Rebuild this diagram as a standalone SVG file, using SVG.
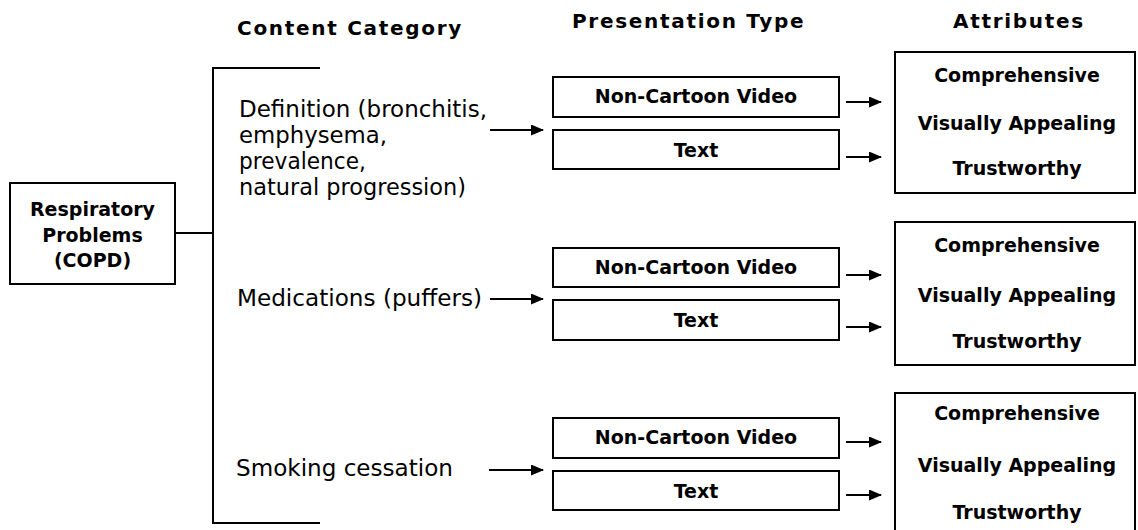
<svg xmlns="http://www.w3.org/2000/svg" width="1138" height="530" viewBox="0 0 1138 530">
<style>
.box{fill:#fff;stroke:#000;stroke-width:2}
.ln{fill:none;stroke:#000;stroke-width:2}
.b{font-family:"DejaVu Sans",Verdana,sans-serif;font-weight:bold;font-size:19px;fill:#000;text-anchor:middle}
.h{font-family:"DejaVu Sans",Verdana,sans-serif;font-weight:bold;font-size:20px;letter-spacing:1.7px;fill:#000}
.r{font-family:"DejaVu Sans",Verdana,sans-serif;font-size:22.5px;fill:#000}
</style>
<defs>
<marker id="ah" markerWidth="13" markerHeight="11" refX="12" refY="5.5" orient="auto" markerUnits="userSpaceOnUse">
<path d="M0,0 L13,5.5 L0,11 Z" fill="#000"/>
</marker>
</defs>
<g id="headers">
<text class="h" x="237" y="35">Content Category</text>
<text class="h" x="572" y="28">Presentation Type</text>
<text class="h" x="953" y="28">Attributes</text>
</g>
<g id="connectors">
<line class="ln" x1="175" y1="233" x2="213" y2="233"/>
<polyline class="ln" points="320,68 213,68 213,523 320,523"/>
<line class="ln" x1="490" y1="130" x2="543" y2="130" marker-end="url(#ah)"/>
<line class="ln" x1="490" y1="299" x2="543" y2="299" marker-end="url(#ah)"/>
<line class="ln" x1="489" y1="470" x2="543" y2="470" marker-end="url(#ah)"/>
<line class="ln" x1="846" y1="102" x2="881" y2="102" marker-end="url(#ah)"/>
<line class="ln" x1="846" y1="157" x2="881" y2="157" marker-end="url(#ah)"/>
<line class="ln" x1="846" y1="275" x2="881" y2="275" marker-end="url(#ah)"/>
<line class="ln" x1="846" y1="327" x2="881" y2="327" marker-end="url(#ah)"/>
<line class="ln" x1="846" y1="442" x2="881" y2="442" marker-end="url(#ah)"/>
<line class="ln" x1="846" y1="495" x2="881" y2="495" marker-end="url(#ah)"/>
</g>
<g id="copd">
<rect class="box" x="10" y="183" width="165" height="101"/>
<text class="b" x="92.5" y="216">Respiratory</text>
<text class="b" x="92.5" y="242">Problems</text>
<text class="b" x="92.5" y="267">(COPD)</text>
</g>
<g id="cat-definition">
<text class="r" x="239" y="117" textLength="248" lengthAdjust="spacingAndGlyphs">Definition (bronchitis,</text>
<text class="r" x="239" y="143" textLength="148" lengthAdjust="spacingAndGlyphs">emphysema,</text>
<text class="r" x="239" y="169" textLength="127" lengthAdjust="spacingAndGlyphs">prevalence,</text>
<text class="r" x="239" y="195" textLength="227" lengthAdjust="spacingAndGlyphs">natural progression)</text>
</g>
<g id="cat-medications">
<text class="r" x="237" y="306" textLength="245" lengthAdjust="spacingAndGlyphs">Medications (puffers)</text>
</g>
<g id="cat-smoking">
<text class="r" x="236" y="476" textLength="217" lengthAdjust="spacingAndGlyphs">Smoking cessation</text>
</g>
<g id="p1-video"><rect class="box" x="553" y="77" width="286" height="40"/><text class="b" x="696" y="103">Non-Cartoon Video</text></g>
<g id="p1-text"><rect class="box" x="553" y="130" width="286" height="39"/><text class="b" x="696" y="157">Text</text></g>
<g id="p2-video"><rect class="box" x="553" y="248" width="286" height="39"/><text class="b" x="696" y="274">Non-Cartoon Video</text></g>
<g id="p2-text"><rect class="box" x="553" y="300" width="286" height="40"/><text class="b" x="696" y="327">Text</text></g>
<g id="p3-video"><rect class="box" x="553" y="418" width="286" height="40"/><text class="b" x="696" y="444">Non-Cartoon Video</text></g>
<g id="p3-text"><rect class="box" x="553" y="471" width="286" height="39"/><text class="b" x="696" y="498">Text</text></g>
<g id="attr1">
<rect class="box" x="895" y="52" width="240" height="141"/>
<text class="b" x="1017" y="82">Comprehensive</text>
<text class="b" x="1017" y="130">Visually Appealing</text>
<text class="b" x="1017" y="175">Trustworthy</text>
</g>
<g id="attr2">
<rect class="box" x="895" y="222" width="240" height="143"/>
<text class="b" x="1017" y="252">Comprehensive</text>
<text class="b" x="1017" y="302">Visually Appealing</text>
<text class="b" x="1017" y="348">Trustworthy</text>
</g>
<g id="attr3">
<rect class="box" x="895" y="393" width="240" height="145"/>
<text class="b" x="1017" y="420">Comprehensive</text>
<text class="b" x="1017" y="472">Visually Appealing</text>
<text class="b" x="1017" y="519">Trustworthy</text>
</g>
</svg>
